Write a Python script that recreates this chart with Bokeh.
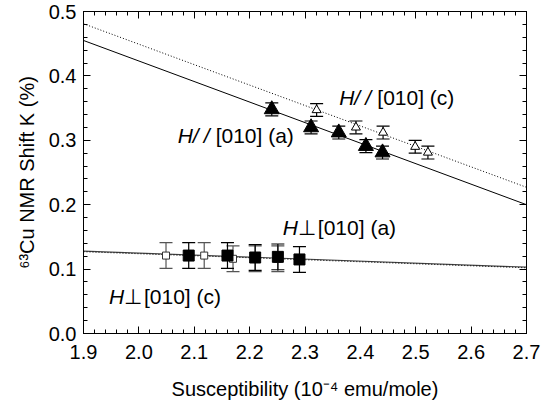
from bokeh.plotting import figure
from bokeh.models import (Range1d, LinearAxis, SingleIntervalTicker, NumeralTickFormatter,
                          CustomJSTickFormatter, Whisker, TeeHead, ColumnDataSource, Label)
from bokeh.embed import file_html
from bokeh.resources import INLINE

# ---- data ----
par_a_x = [2.240, 2.311, 2.361, 2.410, 2.440]
par_a_y = [0.348, 0.320, 0.312, 0.291, 0.281]
par_a_err = [0.010, 0.010, 0.010, 0.010, 0.010]

par_c_x = [2.321, 2.392, 2.441, 2.499, 2.522]
par_c_y = [0.347, 0.320, 0.312, 0.290, 0.281]
par_c_err = [0.010, 0.010, 0.010, 0.010, 0.010]

perp_a_x = [2.090, 2.160, 2.210, 2.251, 2.290]
perp_a_y = [0.121, 0.121, 0.118, 0.119, 0.115]
perp_a_err = [0.020, 0.020, 0.020, 0.020, 0.020]

perp_c_x = [2.049, 2.118, 2.170, 2.210, 2.251]
perp_c_y = [0.121, 0.121, 0.116, 0.116, 0.116]
perp_c_err = [0.020, 0.020, 0.020, 0.020, 0.020]

fit_x = [1.9, 2.7]
par_a_fit = [0.455, 0.200]
par_c_fit = [0.481, 0.227]
perp_a_fit = [0.128, 0.103]
perp_c_fit = [0.127, 0.102]

x_title = "Susceptibility (10\u207b\u2074 emu/mole)"
y_title = "\u2076\u00b3Cu NMR Shift K (%)"

TICKFONT = "Liberation Sans"
FONT = "Liberation Sans"

p = figure(width=555, height=406, output_backend="svg", toolbar_location=None,
           x_range=Range1d(1.9, 2.7), y_range=Range1d(0.0, 0.5),
           x_axis_type=None, y_axis_type=None)
p.min_border_left = 83
p.min_border_right = 29
p.min_border_top = 11
p.min_border_bottom = 73
p.xgrid.visible = False
p.ygrid.visible = False
p.outline_line_color = "black"
p.outline_line_width = 1
p.background_fill_color = "white"
p.border_fill_color = "white"


def make_axis(loc, labels=True, title=None, tick_standoff=7, title_standoff=12):
    ax = LinearAxis(ticker=SingleIntervalTicker(interval=0.1, num_minor_ticks=5))
    ax.major_tick_in = 7
    ax.major_tick_out = 0
    ax.minor_tick_in = 4
    ax.minor_tick_out = 0
    ax.axis_line_color = "black"
    ax.major_tick_line_color = "black"
    ax.minor_tick_line_color = "black"
    if labels:
        ax.formatter = NumeralTickFormatter(format="0.0")
        ax.major_label_text_font = TICKFONT
        ax.major_label_text_font_size = "20px"
        ax.major_label_text_color = "black"
        ax.major_label_standoff = tick_standoff
    else:
        ax.formatter = CustomJSTickFormatter(code="return ''")
        ax.major_label_standoff = 0
    if title:
        ax.axis_label = title
        ax.axis_label_text_font = FONT
        ax.axis_label_text_font_size = "20px"
        ax.axis_label_text_font_style = "normal"
        ax.axis_label_text_color = "black"
        ax.axis_label_standoff = title_standoff
    p.add_layout(ax, loc)
    return ax


make_axis("below", True, x_title, tick_standoff=11, title_standoff=16)
make_axis("left", True, y_title, tick_standoff=7, title_standoff=8)
make_axis("above", False)
make_axis("right", False)

# fit lines
p.line(fit_x, par_a_fit, line_color="black", line_width=1)
p.line(fit_x, par_c_fit, line_color="black", line_width=1, line_dash="1 2")
p.line(fit_x, perp_a_fit, line_color="#444444", line_width=1.2)
p.line(fit_x, perp_c_fit, line_color="black", line_width=1, line_dash="1 2")


def err(xs, ys, es, color, lw):
    src = ColumnDataSource(dict(x=xs, up=[y + e for y, e in zip(ys, es)],
                                lo=[y - e for y, e in zip(ys, es)]))
    w = Whisker(base="x", upper="up", lower="lo", source=src,
                line_color=color, line_width=lw,
                upper_head=TeeHead(size=13, line_color=color, line_width=lw),
                lower_head=TeeHead(size=13, line_color=color, line_width=lw))
    p.add_layout(w)


err(perp_c_x, perp_c_y, perp_c_err, "#555555", 1.2)
err(perp_a_x, perp_a_y, perp_a_err, "black", 1.2)
err(par_c_x, par_c_y, par_c_err, "black", 1.2)
err(par_a_x, par_a_y, par_a_err, "black", 1.2)

p.scatter(perp_c_x, perp_c_y, marker="square", size=7, fill_color="white",
          line_color="#333333", line_width=1)
p.scatter(perp_a_x, perp_a_y, marker="square", size=11, fill_color="black",
          line_color="black")
p.scatter(par_c_x, par_c_y, marker="triangle", size=9, fill_color="white",
          line_color="black", line_width=1)
p.scatter(par_a_x, par_a_y, marker="triangle", size=15, fill_color="black",
          line_color="black")


def lab(x, y, text, dx=0, italic=False):
    p.add_layout(Label(x=x, y=y, x_offset=dx, text=text, text_font=FONT,
                       text_font_size="21px",
                       text_font_style="italic" if italic else "normal",
                       text_color="black", text_baseline="middle", text_align="left"))


def tag_par(x, y, rest):
    lab(x, y, "H", 0, True)
    lab(x, y, "/", 15, True)
    lab(x, y, "/", 26, True)
    lab(x, y, rest, 38)


def tag_perp(x, y, rest):
    lab(x, y, "H", 0, True)
    lab(x, y, "\u22a5", 15)
    lab(x, y, rest, 35)


tag_par(2.07, 0.307, "[010] (a)")
tag_par(2.362, 0.366, "[010] (c)")
tag_perp(2.26, 0.164, "[010] (a)")
tag_perp(1.946, 0.057, "[010] (c)")

open("out.html", "w").write(file_html(p, INLINE))
